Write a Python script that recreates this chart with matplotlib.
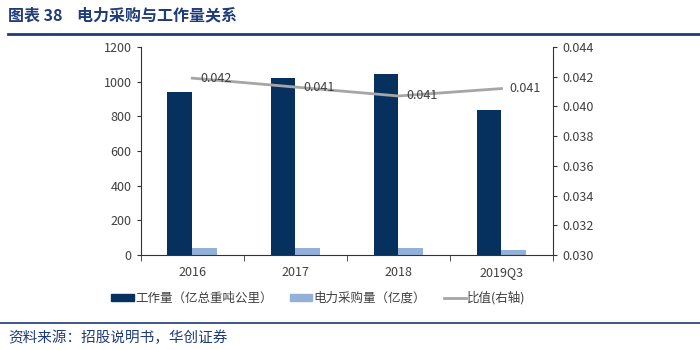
import matplotlib.pyplot as plt
from matplotlib.lines import Line2D
from matplotlib.patches import Patch
import numpy as np

plt.rcParams['font.family'] = ['Noto Sans CJK SC', 'DejaVu Sans']

categories = ['2016', '2017', '2018', '2019Q3']
workload = [942, 1019, 1042, 838]        # 工作量（亿总重吨公里）
power = [39, 42, 40, 31]                 # 电力采购量（亿度）
ratio = [0.0419, 0.0413, 0.0407, 0.0412]  # 比值(右轴)
ratio_labels = ['0.042', '0.041', '0.041', '0.041']

dark = '#06315f'
light = '#93b1d8'
gray = '#a6a6a6'
text_gray = '#404040'
blue = '#1f3b78'

fig = plt.figure(figsize=(7, 3.5), dpi=100)
ax = fig.add_axes([0.201, 0.271, 0.589, 0.595])
x = np.arange(len(categories))
w = 0.24
ax.bar(x - w / 2, workload, w, color=dark, zorder=2)
ax.bar(x + w / 2, power, w, color=light, zorder=2)
ax.set_xlim(-0.5, len(categories) - 0.5)
ax.set_ylim(0, 1200)
ax.set_yticks(range(0, 1201, 200))
ax.set_xticks(x)
ax.set_xticklabels(categories)
ax.set_xticks(np.arange(-0.5, len(categories)), minor=True)
ax.tick_params(axis='x', which='major', length=0, pad=8)
ax.tick_params(axis='x', which='minor', length=4, direction='out', color='#333333')
ax.tick_params(axis='y', length=3, direction='out', color='#333333')
ax.tick_params(labelsize=9, labelcolor=text_gray)
for s in ['top', 'right']:
    ax.spines[s].set_visible(False)
for s in ['left', 'bottom']:
    ax.spines[s].set_color('#333333')
    ax.spines[s].set_linewidth(0.8)

ax2 = ax.twinx()
ax2.plot(x, ratio, color=gray, lw=2, zorder=3)
for xi, yi, lab in zip(x, ratio, ratio_labels):
    ax2.annotate(lab, (xi, yi), xytext=(6, 0), textcoords='offset points',
                 ha='left', va='center', fontsize=9, color=text_gray)
ax2.set_ylim(0.030, 0.044)
ax2.set_yticks(np.arange(0.030, 0.0441, 0.002))
ax2.set_yticklabels([f'{v:.3f}' for v in np.arange(0.030, 0.0441, 0.002)])
ax2.tick_params(axis='y', length=3, direction='out', color='#333333',
                labelsize=9, labelcolor=text_gray)
for s in ['top', 'left', 'bottom']:
    ax2.spines[s].set_visible(False)
ax2.spines['right'].set_color('#333333')
ax2.spines['right'].set_linewidth(0.8)

handles = [Patch(color=dark), Patch(color=light), Line2D([], [], color=gray, lw=2)]
labels = ['工作量（亿总重吨公里）', '电力采购量（亿度）', '比值(右轴)']
fig.legend(handles, labels, loc='center', bbox_to_anchor=(0.455, 0.148), ncol=3,
           frameon=False, fontsize=9, handlelength=1.8, handleheight=0.5,
           handletextpad=0.1, columnspacing=1.4, labelcolor=text_gray)

fig.text(0.012, 0.955, '图表 38    电力采购与工作量关系', fontsize=11.5,
         fontweight='bold', color=blue, va='center', ha='left')
fig.add_artist(Line2D([0.012, 1.0], [0.903, 0.903], color=blue, lw=2))
fig.add_artist(Line2D([0.0, 1.0], [0.077, 0.077], color=blue, lw=1.2))
fig.text(0.012, 0.035, '资料来源：招股说明书，华创证券', fontsize=10.5,
         style='italic', color=blue, va='center', ha='left')

fig.savefig('out.png', dpi=100)
